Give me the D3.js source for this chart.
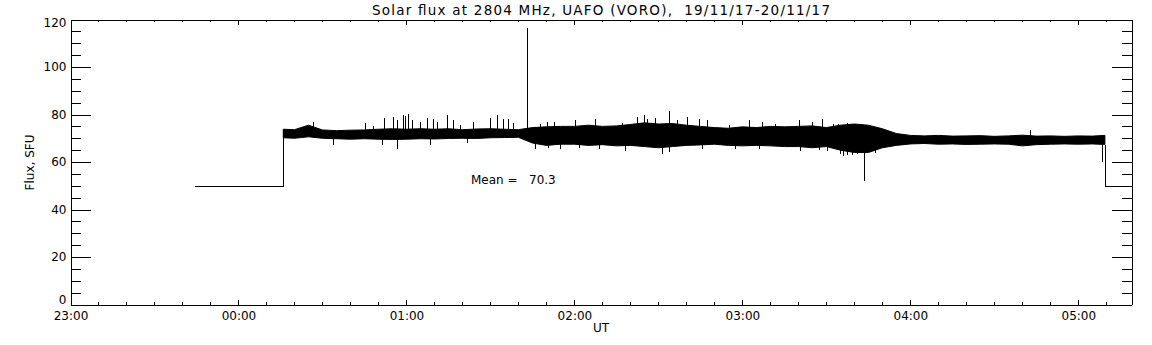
<!DOCTYPE html>
<html>
<head>
<meta charset="utf-8">
<script src="https://cdn.jsdelivr.net/npm/d3@7"></script>
<style>
body { margin: 0; background: #fff; }
svg { display: block; }
text { font-family: "DejaVu Sans", sans-serif; fill: #000; }
</style>
</head>
<body>
<svg width="1152" height="345"></svg>
<script>
var title = 'Solar flux at 2804 MHz, UAFO (VORO),  19/11/17-20/11/17';
var xStart = '23:00', xEnd = '05:19';
var yTicks = [0, 20, 40, 60, 80, 100, 120];
var meanFlux = 70.3;

// receiver off: flat 50 SFU level
var gapLevel = 50;
var gapBefore = ['23:44', '00:16'];
var gapAfter = ['05:09:30', '05:19'];

// envelope of the noisy record, read every 5 min
var bandTime = [
  '00:16', '00:20', '00:25', '00:30', '00:35', '00:40', '00:45', '00:50', '00:55',
  '01:00', '01:05', '01:10', '01:15', '01:20', '01:25', '01:30', '01:35', '01:40', '01:45', '01:50', '01:55',
  '02:00', '02:05', '02:10', '02:15', '02:20', '02:25', '02:30', '02:35', '02:40', '02:45', '02:50', '02:55',
  '03:00', '03:05', '03:10', '03:15', '03:20', '03:25', '03:30', '03:35', '03:40', '03:45', '03:50', '03:55',
  '04:00', '04:05', '04:10', '04:15', '04:20', '04:25', '04:30', '04:35', '04:40', '04:45', '04:50', '04:55',
  '05:00', '05:05', '05:09:30'
];
var bandHi = [
  73.8, 73.6, 75.5, 73.5, 73.2, 73.4, 73.5, 73.8, 74.0,
  73.8, 74.0, 73.8, 74.0, 73.6, 73.9, 74.0, 73.8, 73.6, 74.5, 74.8, 75.0,
  75.0, 75.5, 75.0, 75.2, 75.8, 76.5, 76.0, 76.2, 75.5, 75.0, 74.5, 74.2,
  74.8, 74.5, 75.0, 74.8, 75.0, 75.2, 74.5, 75.5, 76.0, 75.5, 74.0, 72.0,
  71.2, 71.0, 71.2, 70.9, 71.0, 71.1, 70.8, 71.0, 71.3, 70.9, 71.0, 70.8,
  71.0, 70.9, 71.2
];
var bandLo = [
  70.2, 70.0, 70.6, 70.0, 69.8, 69.6, 69.8, 69.6, 69.5,
  69.6, 69.8, 69.7, 69.9, 70.0, 69.9, 70.2, 70.3, 70.4, 68.0, 67.0, 67.5,
  67.5, 67.0, 67.3, 66.8, 67.0, 66.5, 66.0, 66.5, 67.0, 67.2, 67.5, 67.0,
  66.8, 67.0, 66.8, 66.5, 66.5, 66.0, 66.5, 65.0, 64.0, 64.0, 66.0, 67.0,
  67.6, 67.8, 67.5, 67.6, 67.4, 67.5, 67.6, 67.5, 66.8, 67.3, 67.5, 67.6,
  67.5, 67.6, 67.4
];

// single spikes sticking out of the band
var spikeTime = [
  '00:26:44', '00:45:13', '00:48:06', '00:52:00', '00:55:20', '00:56:30', '00:58:41', '00:59:30',
  '01:00:42', '01:01:54', '01:04:52', '01:07:16', '01:09:25', '01:10:50', '01:14:38', '01:16:47',
  '01:19:10', '01:23:43', '01:29:54', '01:32:18', '01:34:27', '01:36:26', '01:38:13', '01:43:14',
  '01:47:47', '01:50:10', '01:52:32', '02:00:17', '02:07:26', '02:17:00', '02:22:21', '02:24:43',
  '02:25:55', '02:28:38', '02:33:38', '02:36:38', '02:40:13', '02:44:22', '02:47:22', '02:55:06',
  '03:02:14', '03:07:00', '03:11:47', '03:20:07', '03:24:55', '03:28:29', '03:37:30', '03:40:10',
  '04:42:42', '03:32:32', '03:34:18', '03:38:54', '03:41:30', '03:45:48', '03:47:40',
  '00:33:40', '00:51:11', '00:56:32', '01:08:27', '01:21:34', '01:46:00', '01:50:38', '01:54:55',
  '02:01:28', '02:08:37', '02:18:10', '02:31:17', '02:33:50', '02:45:35', '02:57:30', '03:05:50',
  '03:20:30', '03:27:16', '03:30:16', '03:36:06', '03:39:20', '03:43:22', '03:47:32', '05:08:34',
  '03:35:00', '03:37:12', '03:40:48', '03:44:24', '03:46:30'
];
var spikeFlux = [
  76.8, 76.5, 75.0, 78.5, 78.9, 77.5, 79.6, 79.3,
  80.3, 77.5, 76.8, 78.5, 78.0, 76.8, 79.6, 77.5,
  75.7, 76.8, 78.5, 79.6, 78.2, 78.0, 76.5, 116.3,
  76.0, 77.0, 76.8, 77.5, 78.2, 76.5, 78.9, 79.9,
  78.2, 78.5, 81.3, 77.5, 78.9, 78.2, 77.5, 75.5,
  77.5, 76.8, 76.0, 77.5, 77.0, 78.0, 76.3, 76.0,
  73.4, 75.8, 76.0, 75.9, 74.8, 74.5, 73.3,
  67.2, 67.0, 65.5, 67.2, 68.0, 65.5, 65.8, 65.5,
  65.8, 65.5, 64.8, 63.4, 64.1, 65.5, 65.5, 65.5,
  64.8, 65.2, 64.8, 62.7, 63.0, 51.9, 64.0, 60.0,
  63.5, 62.9, 63.2, 64.2, 64.5
];

var parseT = d3.utcParse('%Y-%m-%d %H:%M:%S');
function toDate(s) {
  if (s.length == 5) s += ':00';
  var day = +s.slice(0, 2) >= 12 ? '2017-11-19 ' : '2017-11-20 ';
  return parseT(day + s);
}

var svg = d3.select('svg');
var plotL = 70.5, plotR = 1131.5, plotT = 19.5, plotB = 304.5;

var x = d3.scaleUtc()
  .domain([toDate(xStart), toDate(xEnd)])
  .range([plotL, plotR]);
var y = d3.scaleLinear()
  .domain([0, 120])
  .range([plotB, plotT]);

svg.append('clipPath').attr('id', 'plot')
   .append('rect')
   .attr('x', plotL).attr('y', plotT)
   .attr('width', plotR - plotL).attr('height', plotB - plotT);

var g = svg.append('g').attr('clip-path', 'url(#plot)');

// flat parts where receiver was off
var before = [[gapBefore[0], gapLevel], [gapBefore[1], gapLevel], [bandTime[0], bandHi[0]]];
var after = [[gapAfter[0], bandLo[bandLo.length - 1]], [gapAfter[0], gapLevel], [gapAfter[1], gapLevel]];
var line = d3.line()
  .x(function (d) { return Math.round(x(toDate(d[0]))) + 0.5; })
  .y(function (d) { return Math.round(y(d[1])) + 0.5; });

[before, after].forEach(function (pts) {
  g.append('path')
   .attr('d', line(pts))
   .attr('fill', 'none')
   .attr('stroke', '#000')
   .attr('stroke-width', 1)
   .attr('shape-rendering', 'crispEdges');
});

var band = bandTime.map(function (t, i) {
  return {t: toDate(t), hi: bandHi[i], lo: bandLo[i]};
});
var area = d3.area()
  .x(function (d) { return x(d.t); })
  .y0(function (d) { return y(d.lo); })
  .y1(function (d) { return y(d.hi); });
g.append('path')
 .datum(band)
 .attr('d', area)
 .attr('fill', '#000')
 .attr('stroke', '#000')
 .attr('stroke-width', 1);

var spikes = spikeTime.map(function (t, i) {
  return {t: toDate(t), v: spikeFlux[i]};
});
g.selectAll('line.spike')
 .data(spikes)
 .enter()
 .append('line')
 .attr('class', 'spike')
 .attr('x1', function (d) { return Math.round(x(d.t)) + 0.5; })
 .attr('x2', function (d) { return Math.round(x(d.t)) + 0.5; })
 .attr('y1', y(meanFlux))
 .attr('y2', function (d) { return y(d.v); })
 .attr('stroke', '#000')
 .attr('stroke-width', 1)
 .attr('shape-rendering', 'crispEdges');

// axes, IDL style: ticks pointing inwards
function styleAxis(sel) {
  sel.attr('font-family', null).attr('font-size', null);
  sel.selectAll('path, line').attr('stroke', '#000').attr('shape-rendering', 'crispEdges');
  sel.selectAll('text').style('font-size', '12px');
}

var hourTicks = d3.utcHour.every(1);
var minorTicks = d3.utcMinute.every(10);

svg.append('g')
   .attr('transform', 'translate(0,' + plotB + ')')
   .call(d3.axisBottom(x).ticks(minorTicks).tickSize(-2.5).tickSizeOuter(0).tickFormat(''))
   .call(styleAxis);
svg.append('g')
   .attr('transform', 'translate(0,' + plotB + ')')
   .call(d3.axisBottom(x).ticks(hourTicks).tickSize(-5).tickSizeOuter(0)
     .tickPadding(7).tickFormat(d3.utcFormat('%H:%M')))
   .call(styleAxis);

svg.append('g')
   .attr('transform', 'translate(0,' + plotT + ')')
   .call(d3.axisTop(x).ticks(minorTicks).tickSize(-2.5).tickSizeOuter(0).tickFormat(''))
   .call(styleAxis);
svg.append('g')
   .attr('transform', 'translate(0,' + plotT + ')')
   .call(d3.axisTop(x).ticks(hourTicks).tickSize(-5).tickSizeOuter(0).tickFormat(''))
   .call(styleAxis);

var yMinor = d3.range(0, 121, 5);
svg.append('g')
   .attr('transform', 'translate(' + plotL + ',0)')
   .call(d3.axisLeft(y).tickValues(yMinor).tickSize(-10).tickSizeOuter(0).tickFormat(''))
   .call(styleAxis);
var yAxis = svg.append('g')
   .attr('transform', 'translate(' + plotL + ',0)')
   .call(d3.axisLeft(y).tickValues(yTicks).tickSize(-20).tickSizeOuter(0).tickPadding(4))
   .call(styleAxis);
// end labels pulled inside like IDL does
yAxis.selectAll('.tick text')
   .attr('dy', function (d) { return d == 0 ? '-0.05em' : d == 120 ? '0.62em' : '0.32em'; });

svg.append('g')
   .attr('transform', 'translate(' + plotR + ',0)')
   .call(d3.axisRight(y).tickValues(yMinor).tickSize(-10).tickSizeOuter(0).tickFormat(''))
   .call(styleAxis);
svg.append('g')
   .attr('transform', 'translate(' + plotR + ',0)')
   .call(d3.axisRight(y).tickValues(yTicks).tickSize(-20).tickSizeOuter(0).tickFormat(''))
   .call(styleAxis);

svg.append('text')
   .attr('x', 601).attr('y', 15)
   .attr('text-anchor', 'middle')
   .style('font-size', '13.5px')
   .attr('textLength', 458)
   .attr('lengthAdjust', 'spacing')
   .style('white-space', 'pre')
   .text(title);

svg.append('text')
   .attr('x', 601).attr('y', 332)
   .attr('text-anchor', 'middle')
   .style('font-size', '12px')
   .text('UT');

svg.append('text')
   .attr('transform', 'translate(34,162.5) rotate(-90)')
   .attr('text-anchor', 'middle')
   .style('font-size', '12px')
   .text('Flux, SFU');

svg.append('text')
   .attr('x', 471).attr('y', 184)
   .style('font-size', '12px')
   .style('white-space', 'pre')
   .text('Mean = ' + d3.format('6.1f')(meanFlux));
</script>
</body>
</html>
